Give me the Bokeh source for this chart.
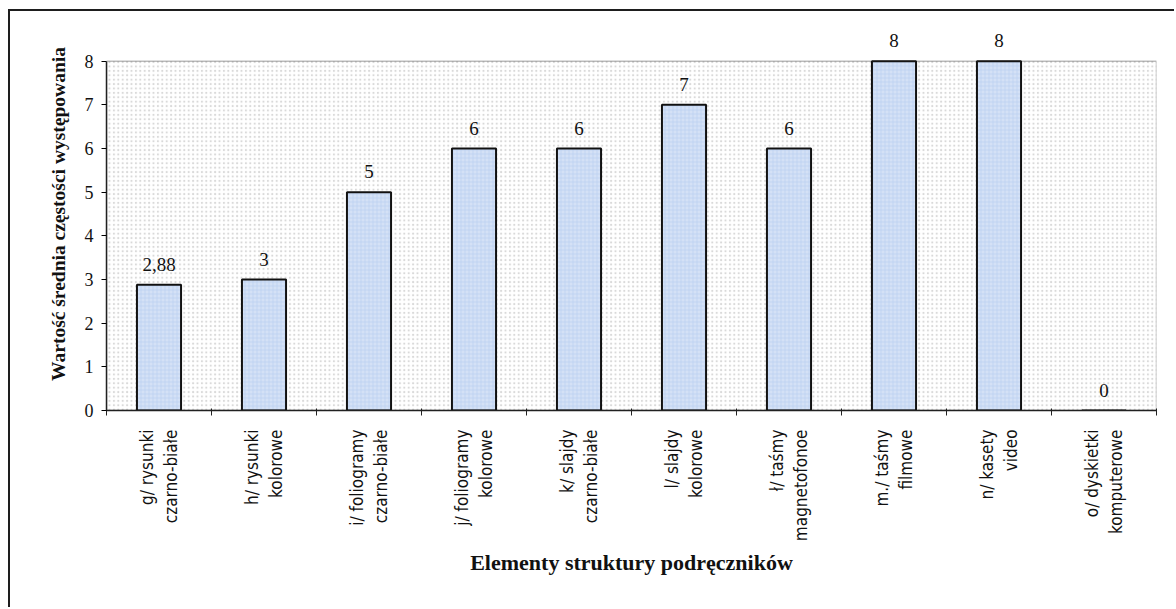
import math
from bokeh.plotting import figure
from bokeh.models import (ColumnDataSource, FixedTicker, LabelSet, BoxAnnotation,
                          Range1d)
from bokeh.embed import file_html
from bokeh.resources import INLINE

# ---- data ----
categories = ["g/ rysunki\nczarno-białe", "h/ rysunki\nkolorowe",
              "i/ foliogramy\nczarno-białe", "j/ foliogramy\nkolorowe",
              "k/ slajdy\nczarno-białe", "l/ slajdy\nkolorowe",
              "ł/ taśmy\nmagnetofonoe", "m./ taśmy\nfilmowe",
              "n/ kasety\nvideo", "o/ dyskietki\nkomputerowe"]
values = [2.88, 3, 5, 6, 6, 7, 6, 8, 8, 0]
value_labels = ["2,88", "3", "5", "6", "6", "7", "6", "8", "8", "0"]
y_ticks = [0, 1, 2, 3, 4, 5, 6, 7, 8]
y_max = 8
x_title = "Elementy struktury podręczników"
y_title = "Wartość średnia częstości występowania"

n = len(categories)
centers = [i + 0.5 for i in range(n)]
bounds = list(range(n + 1))

SERIF = "Liberation Serif, Times New Roman, serif"
NARROW = "Liberation Sans Narrow, Arial Narrow, DejaVu Sans Condensed, sans-serif"

p = figure(width=1166, height=598, output_backend="svg", toolbar_location=None,
           x_range=Range1d(0, n), y_range=Range1d(0, y_max * 9 / 8),
           min_border_left=96, min_border_top=6, min_border_right=20,
           min_border_bottom=199)
p.styles = {"border-top": "2px solid #1e1e1e", "border-left": "2px solid #1e1e1e",
            "margin-left": "8px", "margin-top": "9px"}

p.outline_line_color = None
p.background_fill_color = "white"
p.border_fill_color = "white"
p.xgrid.visible = False
p.ygrid.visible = False

# dotted background texture of the plot area
bg = BoxAnnotation(left=0, right=n, bottom=0, top=y_max, fill_alpha=0,
                   line_alpha=0, hatch_pattern="dot", hatch_color="#d9d9d9",
                   hatch_scale=4.4, hatch_weight=0.7, level="underlay")
p.add_layout(bg)
frame_box = BoxAnnotation(left=0, right=n, bottom=0, top=y_max, fill_alpha=0,
                          line_color="#222222", line_width=1.5, level="overlay")
p.add_layout(frame_box)

src = ColumnDataSource(dict(x=centers, top=values, lab=value_labels))
p.vbar(x="x", top="top", bottom=0, width=0.42, source=src,
       fill_color="#d4e1f6", line_color="#111111", line_width=2,
       hatch_pattern="cross", hatch_color="#b6cbef", hatch_scale=4,
       hatch_weight=0.6)

labels = LabelSet(x="x", y="top", text="lab", source=src, text_align="center",
                  text_baseline="bottom", y_offset=14, text_font=SERIF,
                  text_font_size="19px", text_color="#111111")
p.add_layout(labels)

# y axis
p.yaxis.bounds = (0, y_max)
p.yaxis.ticker = FixedTicker(ticks=y_ticks, minor_ticks=[])
p.yaxis.major_label_text_font = SERIF
p.yaxis.major_label_text_font_size = "18px"
p.yaxis.major_label_text_color = "#111111"
p.yaxis.major_tick_in = 0
p.yaxis.major_tick_out = 5
p.yaxis.minor_tick_line_color = None
p.yaxis.axis_line_color = "#222222"
p.yaxis.axis_line_width = 1.5
p.yaxis.major_label_standoff = 8
p.yaxis.axis_label = y_title
p.yaxis.axis_label_text_font = SERIF
p.yaxis.axis_label_text_font_style = "bold"
p.yaxis.axis_label_text_font_size = "19.5px"
p.yaxis.axis_label_text_color = "#111111"
p.yaxis.axis_label_standoff = 13

# x axis: labels at centres, ticks at boundaries
p.xaxis.ticker = FixedTicker(ticks=centers, minor_ticks=bounds)
p.xaxis.major_label_overrides = {c: lab for c, lab in zip(centers, categories)}
p.xaxis.major_tick_in = 0
p.xaxis.major_tick_out = 0
p.xaxis.minor_tick_in = 2
p.xaxis.minor_tick_out = 5
p.xaxis.minor_tick_line_color = "#222222"
p.xaxis.axis_line_color = "#222222"
p.xaxis.axis_line_width = 1.5
p.xaxis.major_label_orientation = math.pi / 2
p.xaxis.major_label_text_font = NARROW
p.xaxis.major_label_text_font_size = "17px"
p.xaxis.major_label_text_color = "#111111"
p.xaxis.major_label_standoff = 14
p.xaxis.axis_label = x_title
p.xaxis.axis_label_text_font = SERIF
p.xaxis.axis_label_text_font_style = "bold"
p.xaxis.axis_label_text_font_size = "22px"
p.xaxis.axis_label_text_color = "#111111"
p.xaxis.axis_label_standoff = 6

open("out.html", "w").write(file_html(p, INLINE))
